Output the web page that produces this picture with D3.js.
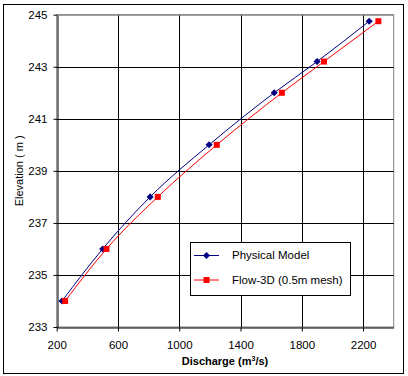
<!DOCTYPE html>
<html><head><meta charset="utf-8">
<script src="https://cdn.jsdelivr.net/npm/d3@7"></script>
<style>body{margin:0;background:#fff}svg text{font-family:"Liberation Sans",Arial,sans-serif}</style>
</head><body><svg id="c" width="408" height="376"></svg>
<script>
const physQ = [235, 500, 810, 1195, 1620, 1900, 2240];
const physZ = [234, 236, 238, 240, 242, 243.2, 244.75];
const flowQ = [255, 525, 860, 1245, 1670, 1945, 2300];
const flowZ = [234, 236, 238, 240, 242, 243.2, 244.75];
const xTicks = [200, 600, 1000, 1400, 1800, 2200];
const yTicks = [233, 235, 237, 239, 241, 243, 245];
const seriesNames = ["Physical Model", "Flow-3D (0.5m mesh)"];

const svg = d3.select("#c");
const L = 56.7, R = 393.7, T = 14.7, B = 327;
const x = d3.scaleLinear().domain([200, 2400]).range([L, R]);
const y = d3.scaleLinear().domain([233, 245]).range([B, T]);

svg.append("rect").attr("x", 3.5).attr("y", 4.5).attr("width", 400).attr("height", 369)
  .attr("fill", "#fff").attr("stroke", "#000").attr("stroke-width", 1);

svg.append("rect").attr("x", L).attr("y", T).attr("width", R - L).attr("height", B - T)
  .attr("fill", "#fff").attr("stroke", "#808080").attr("stroke-width", 1);

svg.append("g").selectAll("line").data(xTicks.slice(1)).join("line")
  .attr("x1", d => Math.round(x(d)) + 0.5).attr("x2", d => Math.round(x(d)) + 0.5)
  .attr("y1", T).attr("y2", B).attr("stroke", "#000");
svg.append("g").selectAll("line").data(yTicks.slice(1, -1)).join("line")
  .attr("y1", d => Math.round(y(d)) + 0.5).attr("y2", d => Math.round(y(d)) + 0.5)
  .attr("x1", L).attr("x2", R).attr("stroke", "#000");

const xAxis = svg.append("g").attr("transform", `translate(0,${Math.round(B) + 0.5})`)
  .call(d3.axisBottom(x).tickValues(xTicks).tickSizeInner(4).tickSizeOuter(0).tickPadding(9).tickFormat(d3.format("d")));
const yAxis = svg.append("g").attr("transform", `translate(${Math.round(L) + 0.5},0)`)
  .call(d3.axisLeft(y).tickValues(yTicks).tickSizeInner(4).tickSizeOuter(0).tickPadding(6).tickFormat(d3.format("d")));
[xAxis, yAxis].forEach(a => {
  a.select(".domain").attr("stroke", "#000");
  a.selectAll("line").attr("stroke", "#000");
  a.selectAll("text").attr("font-size", 11.5).attr("fill", "#000")
    .attr("font-family", "'Liberation Sans', Arial, sans-serif");
});
svg.append("line").attr("x1", L).attr("x2", R).attr("y1", T + 0.5).attr("y2", T + 0.5).attr("stroke", "#808080");

const xt = svg.append("text").attr("x", 225).attr("y", 365).attr("text-anchor", "middle")
  .attr("font-size", 11).attr("font-weight", "bold");
xt.append("tspan").text("Discharge (m");
xt.append("tspan").attr("font-size", 7).attr("dy", -4).text("3");
xt.append("tspan").attr("dy", 4).text("/s)");
svg.append("text").attr("transform", `translate(23,${(T + B) / 2}) rotate(-90)`)
  .attr("text-anchor", "middle").attr("font-size", 11).text("Elevation ( m )");

const line = d3.line().x(d => x(d[0])).y(d => y(d[1])).curve(d3.curveMonotoneX);
const phys = physQ.map((q, i) => [q, physZ[i]]);
const flow = flowQ.map((q, i) => [q, flowZ[i]]);
svg.append("path").datum(phys).attr("d", line).attr("fill", "none").attr("stroke", "#000080").attr("stroke-width", 1);
svg.append("path").datum(flow).attr("d", line).attr("fill", "none").attr("stroke", "#ff0000").attr("stroke-width", 1);

const diamond = d3.symbol().type(d3.symbolDiamond2).size(32);
svg.append("g").selectAll("path").data(phys).join("path")
  .attr("transform", d => `translate(${x(d[0])},${y(d[1])})`)
  .attr("d", diamond).attr("fill", "#000080");
svg.append("g").selectAll("rect").data(flow).join("rect")
  .attr("x", d => x(d[0]) - 3).attr("y", d => y(d[1]) - 3).attr("width", 6).attr("height", 6)
  .attr("fill", "#ff0000");

const lg = svg.append("g");
lg.append("rect").attr("x", 190.5).attr("y", 242.5).attr("width", 160).attr("height", 53)
  .attr("fill", "#fff").attr("stroke", "#000");
const items = [{c: "#000080", sym: "d"}, {c: "#ff0000", sym: "s"}];
items.forEach((it, i) => {
  const yy = 255 + i * 24.5;
  lg.append("line").attr("x1", 194).attr("x2", 219).attr("y1", yy + 0.5).attr("y2", yy + 0.5).attr("stroke", it.c);
  if (it.sym === "d") lg.append("path").attr("transform", `translate(206.5,${yy + 0.5})`).attr("d", diamond).attr("fill", it.c);
  else lg.append("rect").attr("x", 203.5).attr("y", yy - 2.5).attr("width", 6).attr("height", 6).attr("fill", it.c);
  lg.append("text").attr("x", 232).attr("y", yy + 4).attr("font-size", 11.5).text(seriesNames[i]);
});
</script></body></html>
